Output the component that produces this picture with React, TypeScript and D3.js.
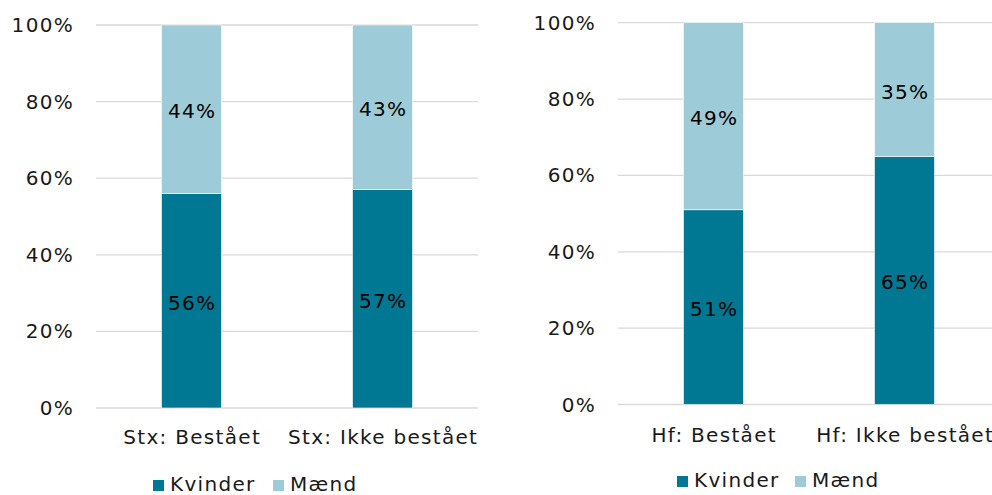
import React from "react";
import * as d3 from "d3";

const seriesNames = ["Kvinder", "Mænd"];
const seriesColors = ["#007894", "#9dcbd7"];
const yTicks = [0, 20, 40, 60, 80, 100];

const stxCategories = ["Stx: Bestået", "Stx: Ikke bestået"];
const stxKvinder = [56, 57];
const stxMaend = [44, 43];

const hfCategories = ["Hf: Bestået", "Hf: Ikke bestået"];
const hfKvinder = [51, 65];
const hfMaend = [49, 35];

const FONT = "Verdana, 'DejaVu Sans', sans-serif";
const LS = 1.3; // DejaVu is a bit narrower than Verdana

interface PanelProps {
  categories: string[];
  kvinder: number[];
  maend: number[];
  left: number; // plot left
  top: number; // 100% line
  bottom: number; // 0% line
  labelBase: number;
  legendX: number;
  legendY: number;
  legendGap: number;
}

const Panel: React.FC<PanelProps> = ({
  categories,
  kvinder,
  maend,
  left,
  top,
  bottom,
  labelBase,
  legendX,
  legendY,
  legendGap,
}) => {
  const plotW = 382;
  const x = d3
    .scaleBand<string>()
    .domain(categories)
    .range([left, left + plotW])
    .paddingInner(0.686)
    .paddingOuter(0.343);
  const y = d3.scaleLinear().domain([0, 100]).range([bottom, top]);

  const rows = categories.map((c, i) => ({
    cat: c,
    Kvinder: kvinder[i],
    Mænd: maend[i],
  }));
  const stacked = d3.stack<any>().keys(seriesNames)(rows);

  return (
    <g>
      {yTicks.map((t) => (
        <g key={t}>
          <line
            x1={left}
            x2={left + plotW}
            y1={y(t)}
            y2={y(t)}
            stroke="#d9d9d9"
            strokeWidth={1.3}
          />
          <text
            x={left - 22}
            y={y(t)}
            dy="0.35em"
            textAnchor="end"
            fontSize={20}
            letterSpacing={LS}
            fill="#1a1a1a"
          >
            {t}%
          </text>
        </g>
      ))}
      {stacked.map((s, si) =>
        s.map((d, i) => {
          const bx = x(categories[i])!;
          const y0 = y(d[0]);
          const y1 = y(d[1]);
          return (
            <g key={`${si}-${i}`}>
              <rect
                x={bx}
                y={y1}
                width={x.bandwidth()}
                height={y0 - y1}
                fill={seriesColors[si]}
                stroke="#ffffff"
                strokeWidth={0.6}
              />
              <text
                x={bx + x.bandwidth() / 2 + LS / 2}
                y={(y0 + y1) / 2}
                dy="0.45em"
                textAnchor="middle"
                fontSize={20}
                letterSpacing={LS}
                fill="#000"
              >
                {d[1] - d[0]}%
              </text>
            </g>
          );
        })
      )}
      {categories.map((c) => (
        <text
          key={c}
          x={x(c)! + x.bandwidth() / 2 + LS / 2}
          y={labelBase}
          textAnchor="middle"
          fontSize={20}
          letterSpacing={LS}
          fill="#1a1a1a"
        >
          {c}
        </text>
      ))}
      {seriesNames.map((n, i) => (
        <g key={n} transform={`translate(${legendX + i * legendGap},${legendY})`}>
          <rect x={0} y={-11} width={11} height={11} fill={seriesColors[i]} />
          <text x={17} y={0} fontSize={20} letterSpacing={LS} fill="#1a1a1a">
            {n}
          </text>
        </g>
      ))}
    </g>
  );
};

export default function App() {
  return (
    <svg
      width={992}
      height={495}
      style={{ position: "absolute", left: 0, top: 0, fontFamily: FONT }}
    >
      <rect width={992} height={495} fill="#ffffff" />
      <Panel
        categories={stxCategories}
        kvinder={stxKvinder}
        maend={stxMaend}
        left={96}
        top={25}
        bottom={408}
        labelBase={444}
        legendX={153}
        legendY={491}
        legendGap={120}
      />
      <Panel
        categories={hfCategories}
        kvinder={hfKvinder}
        maend={hfMaend}
        left={618}
        top={22.7}
        bottom={404.5}
        labelBase={442}
        legendX={677}
        legendY={487}
        legendGap={118}
      />
    </svg>
  );
}
